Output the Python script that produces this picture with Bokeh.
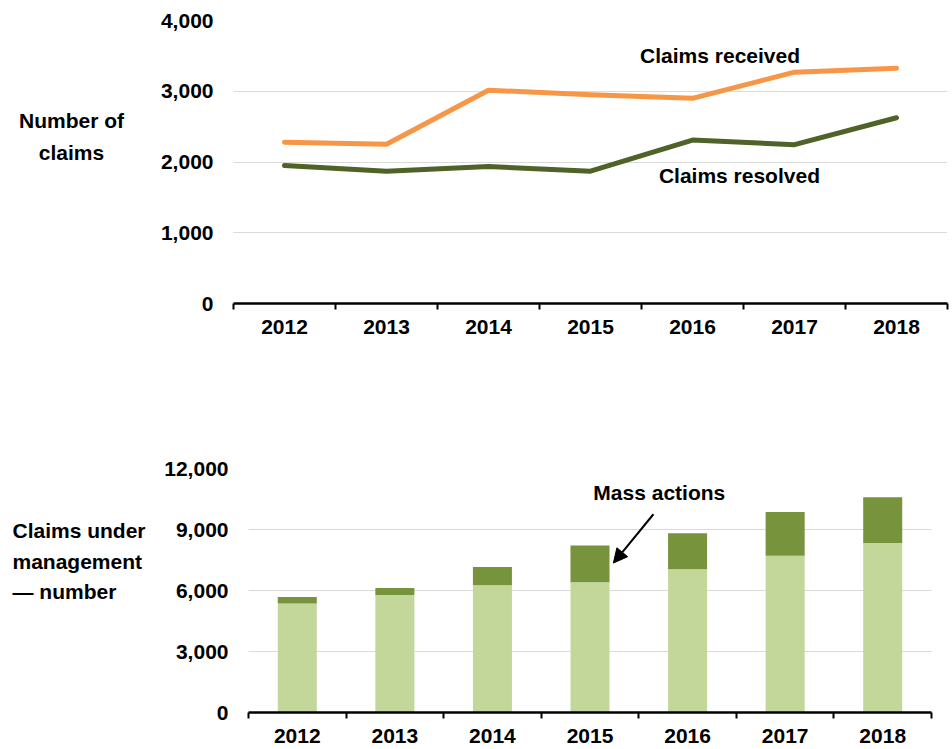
from bokeh.plotting import figure
from bokeh.models import (ColumnDataSource, FixedTicker, NumeralTickFormatter, Label,
                          Arrow, NormalHead, Range1d)
from bokeh.layouts import row
from bokeh.embed import file_html
from bokeh.resources import INLINE

# ---------------- data ----------------
years = ["2012", "2013", "2014", "2015", "2016", "2017", "2018"]
claims_received = [2280, 2250, 3015, 2950, 2900, 3270, 3325]
claims_resolved = [1950, 1870, 1935, 1870, 2310, 2245, 2625]
standard_claims = [5360, 5780, 6255, 6400, 7040, 7710, 8330]
mass_actions = [320, 340, 895, 1815, 1775, 2155, 2250]

top_ticks = [0, 1000, 2000, 3000, 4000]
bottom_ticks = [0, 3000, 6000, 9000, 12000]
top_title = ["Number of", "claims"]
bottom_title = ["Claims under", "management", "\u2014 number"]

ORANGE = "#F79646"
DKGREEN = "#4F6228"
LIGHTBAR = "#C4D79B"
DARKBAR = "#77933C"
FONT = "Liberation Sans"
FS = "21px"

xs = list(range(len(years)))
bounds = [i - 0.5 for i in range(len(years) + 1)]
TITLE_W = 150


def style(p, yticks):
    p.outline_line_color = None
    p.background_fill_color = "white"
    p.border_fill_color = "white"
    p.xgrid.visible = False
    p.ygrid.ticker = FixedTicker(ticks=yticks)
    p.ygrid.grid_line_color = "#b5b5b5"
    p.ygrid.grid_line_dash = "1 1"
    p.ygrid.grid_line_width = 1
    ya = p.yaxis[0]
    ya.ticker = FixedTicker(ticks=yticks)
    ya.formatter = NumeralTickFormatter(format="0,0")
    ya.axis_line_color = None
    ya.major_tick_line_color = None
    ya.minor_tick_line_color = None
    ya.major_tick_out = 0
    ya.minor_tick_out = 0
    ya.major_label_standoff = 20
    ya.major_label_text_font = FONT
    ya.major_label_text_font_style = "bold"
    ya.major_label_text_font_size = FS
    ya.major_label_text_color = "black"
    xa = p.xaxis[0]
    xa.ticker = FixedTicker(ticks=xs, minor_ticks=bounds)
    xa.major_label_overrides = {i: y for i, y in zip(xs, years)}
    xa.axis_line_color = "black"
    xa.axis_line_width = 2.5
    xa.major_tick_line_color = None
    xa.major_tick_out = 0
    xa.minor_tick_line_color = "black"
    xa.minor_tick_line_width = 2
    xa.minor_tick_in = 0
    xa.minor_tick_out = 6
    xa.major_label_standoff = 10
    xa.major_label_text_font = FONT
    xa.major_label_text_font_style = "bold"
    xa.major_label_text_font_size = FS
    xa.major_label_text_color = "black"


def label(p, x, y, text, align="center"):
    p.add_layout(Label(x=x, y=y, text=text, text_align=align, text_baseline="middle",
                       text_font=FONT, text_font_style="bold", text_font_size=FS,
                       text_color="black"))


def title_panel(height, y_range, border_top, border_bottom):
    t = figure(width=TITLE_W, height=height, output_backend="svg", toolbar_location=None,
               x_range=Range1d(0, TITLE_W), y_range=y_range,
               min_border_left=0, min_border_right=0, min_border_top=border_top,
               min_border_bottom=border_bottom)
    t.axis.visible = False
    t.grid.visible = False
    t.outline_line_color = None
    t.background_fill_color = "white"
    t.border_fill_color = "white"
    return t


# ---------------- top chart ----------------
top_y = Range1d(0, 4000)
top = figure(width=952 - TITLE_W, height=370, output_backend="svg", toolbar_location=None,
             x_range=Range1d(-0.5, len(years) - 0.5), y_range=top_y,
             min_border_left=233 - TITLE_W, min_border_right=5, min_border_top=20,
             min_border_bottom=67)
style(top, top_ticks)

src_top = ColumnDataSource(dict(x=xs, received=claims_received, resolved=claims_resolved))
top.line("x", "resolved", source=src_top, line_color=DKGREEN, line_width=5,
         line_cap="round", line_join="round")
top.line("x", "received", source=src_top, line_color=ORANGE, line_width=5,
         line_cap="round", line_join="round")

label(top, 4.27, 3505, "Claims received")
label(top, 4.46, 1810, "Claims resolved")

top_t = title_panel(370, top_y, 20, 67)
label(top_t, 71, 2587, top_title[0])
label(top_t, 71, 2134, top_title[1])

# ---------------- bottom chart ----------------
bot_y = Range1d(0, 12000)
bot = figure(width=952 - TITLE_W, height=379, output_backend="svg", toolbar_location=None,
             x_range=Range1d(-0.5, len(years) - 0.5), y_range=bot_y,
             min_border_left=248 - TITLE_W, min_border_right=21, min_border_top=98,
             min_border_bottom=37)
style(bot, bottom_ticks)

src_bot = ColumnDataSource(dict(x=xs, standard=standard_claims, mass=mass_actions))
bot.vbar_stack(["standard", "mass"], x="x", width=0.4, color=[LIGHTBAR, DARKBAR],
               source=src_bot, line_color=None)

label(bot, 3.71, 10810, "Mass actions")
bot.add_layout(Arrow(end=NormalHead(size=14, fill_color="black", line_color="black"),
                     x_start=3.65, y_start=9750, x_end=3.24, y_end=7350,
                     line_color="black", line_width=2))

bot_t = title_panel(379, bot_y, 98, 37)
label(bot_t, 12, 8949, bottom_title[0], "left")
label(bot_t, 12, 7406, bottom_title[1], "left")
label(bot_t, 12, 5936, bottom_title[2], "left")

open("out.html", "w").write(file_html([row(top_t, top), row(bot_t, bot)], INLINE))
